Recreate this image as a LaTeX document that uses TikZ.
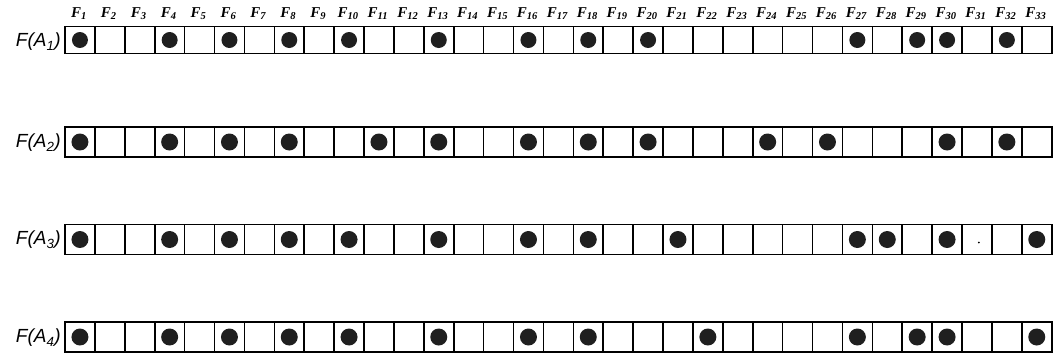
\documentclass[tikz,border=0pt]{standalone}
\usepackage{fontspec}
\setmainfont{Liberation Serif}
\newfontfamily\labfont{Liberation Sans}
\begin{document}
\begin{tikzpicture}[x=1pt,y=-1pt,
  cell/.style={draw, line width=1.6pt, minimum width=29.9pt, minimum height=#1, inner sep=0pt, outer sep=0pt},
  cell/.default=30pt,
  dot/.style={circle, fill=black!88, minimum size=17pt, inner sep=0pt},
  speck/.style={circle, fill=black, minimum size=2pt, inner sep=0pt},
  rowlab/.style={font=\labfont\itshape\fontsize{19}{19}\selectfont, anchor=east, inner sep=0pt},
  collab/.style={font=\bfseries\itshape\fontsize{15}{15}\selectfont, inner sep=0pt}]
\useasboundingbox (0,0) rectangle (1058,354);
% column headers
\foreach \k in {1,...,33}{
  \node[collab] (h\k) at ({65+29.9*(\k-0.5)-1},14) {F\textsubscript{\k}};
}
% rows of cells
\foreach \k in {1,...,33}{
  \node[cell=27pt] (c1-\k) at ({65+29.9*(\k-0.5)},40) {};
  \node[cell] (c2-\k) at ({65+29.9*(\k-0.5)},142) {};
  \node[cell] (c3-\k) at ({65+29.9*(\k-0.5)},239.5) {};
  \node[cell] (c4-\k) at ({65+29.9*(\k-0.5)},337) {};
}
% row labels
\node[rowlab] (l1) at (61,42) {F(A\textsubscript{1})};
\node[rowlab] (l2) at (61,143) {F(A\textsubscript{2})};
\node[rowlab] (l3) at (61,240) {F(A\textsubscript{3})};
\node[rowlab] (l4) at (61,338) {F(A\textsubscript{4})};
% dots
\foreach \k in {1,4,6,8,10,13,16,18,20,27,29,30,32}
  \node[dot, minimum size=16pt] (d1-\k) at (c1-\k) {};
\foreach \k in {1,4,6,8,11,13,16,18,20,24,26,30,32}
  \node[dot] (d2-\k) at (c2-\k) {};
\foreach \k in {1,4,6,8,10,13,16,18,21,27,28,30,33}
  \node[dot] (d3-\k) at (c3-\k) {};
\foreach \k in {1,4,6,8,10,13,16,18,22,27,29,30,33}
  \node[dot] (d4-\k) at (c4-\k) {};
\node[speck] (s3) at ([shift={(2pt,-3pt)}]c3-31.center) {};
\end{tikzpicture}
\end{document}
